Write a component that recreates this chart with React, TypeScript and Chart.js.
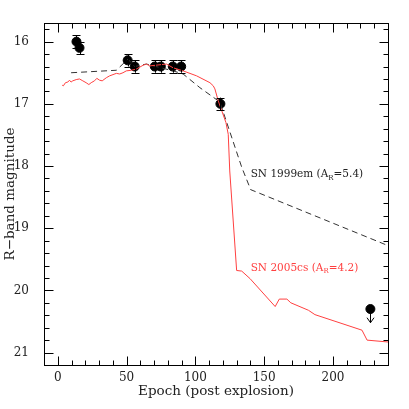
import React, { useEffect, useRef } from "react";
import { Chart, registerables } from "chart.js";

Chart.register(...registerables);

// Observed SN points (epoch, R mag, error)
const obsEpoch = [13.6, 15.8, 50.8, 55.9, 70.5, 74.9, 83.6, 89.7, 118.2];
const obsMag = [16.0, 16.1, 16.3, 16.4, 16.4, 16.4, 16.4, 16.4, 17.0];
const obsErr = [0.1, 0.1, 0.1, 0.1, 0.1, 0.1, 0.1, 0.1, 0.1];

// Upper limit
const limEpoch = [227.2];
const limMag = [20.3];
const limArrowTo = [20.52];

// SN 2005cs template (red)
const sn05Epoch = [3.2, 4.1, 5.6, 7.3, 8.5, 9.7, 10.9, 13.4, 15.8, 18.2, 20.6, 22.6, 24.3, 26.7, 28.4, 30.4, 32.3, 35.3, 37.7, 42.6, 45, 47.4, 49.8, 53.5, 57.1, 62, 64.4, 66.8, 79, 83.8, 91.1, 100.9, 110.6, 113, 114.2, 116.6, 119, 122.2, 123.9, 125, 130, 133.7, 139.7, 158, 161, 166.5, 169.4, 182.2, 186.9, 221.1, 224.8, 240];
const sn05Mag = [16.7, 16.71, 16.66, 16.65, 16.62, 16.65, 16.63, 16.61, 16.6, 16.63, 16.66, 16.69, 16.66, 16.63, 16.59, 16.62, 16.63, 16.58, 16.55, 16.51, 16.52, 16.5, 16.47, 16.46, 16.44, 16.38, 16.36, 16.39, 16.36, 16.42, 16.47, 16.55, 16.66, 16.71, 16.76, 16.95, 17.1, 17.3, 17.49, 18.08, 19.68, 19.69, 19.81, 20.26, 20.14, 20.14, 20.2, 20.32, 20.39, 20.64, 20.8, 20.83];

// SN 1999em template (dashed)
const sn99Epoch = [9.7, 42.6, 51, 55.9, 64.4, 83.8, 91.1, 103.3, 117.8, 133.7, 140.2, 240];
const sn99Mag = [16.5, 16.46, 16.28, 16.4, 16.36, 16.47, 16.52, 16.74, 16.97, 18.02, 18.38, 19.28];

const xTickValues = [0, 50, 100, 150, 200];
const yTickValues = [16, 17, 18, 19, 20, 21];
const X_MIN = -10, X_MAX = 240, Y_MIN = 15.7, Y_MAX = 21.2;

const FONT = "'DejaVu Serif', serif";
const RED = "#ff4040";
const TEXT = "#222";

const toXY = (xs: number[], ys: number[]) => xs.map((x, i) => ({ x, y: ys[i] }));

const decorPlugin = {
  id: "decor",
  afterDatasetsDraw(chart: any) {
    const ctx = chart.ctx;
    const xs = chart.scales.x;
    const ys = chart.scales.y;
    const a = chart.chartArea;
    ctx.save();
    // error bars
    ctx.strokeStyle = "#000";
    ctx.lineWidth = 1;
    obsEpoch.forEach((e, i) => {
      const px = Math.round(xs.getPixelForValue(e)) + 0.5;
      const y1 = ys.getPixelForValue(obsMag[i] - obsErr[i]);
      const y2 = ys.getPixelForValue(obsMag[i] + obsErr[i]);
      ctx.beginPath();
      ctx.moveTo(px, y1); ctx.lineTo(px, y2);
      ctx.moveTo(px - 4, Math.round(y1) + 0.5); ctx.lineTo(px + 4, Math.round(y1) + 0.5);
      ctx.moveTo(px - 4, Math.round(y2) + 0.5); ctx.lineTo(px + 4, Math.round(y2) + 0.5);
      ctx.stroke();
    });
    // upper limit arrow
    limEpoch.forEach((e, i) => {
      const px = Math.round(xs.getPixelForValue(e)) + 0.5;
      const y1 = ys.getPixelForValue(limMag[i]);
      const y2 = ys.getPixelForValue(limArrowTo[i]);
      ctx.beginPath();
      ctx.moveTo(px, y1); ctx.lineTo(px, y2);
      ctx.moveTo(px - 3.5, y2 - 5); ctx.lineTo(px, y2); ctx.lineTo(px + 3.5, y2 - 5);
      ctx.stroke();
    });
    // frame
    ctx.lineWidth = 1;
    ctx.strokeStyle = "#000";
    const L = Math.round(a.left) + 0.5, R = Math.round(a.right) + 0.5;
    const T = Math.round(a.top) + 0.5, B = Math.round(a.bottom) + 0.5;
    ctx.strokeRect(L, T, R - L, B - T);
    ctx.beginPath();
    for (let v = X_MIN; v <= X_MAX + 1e-6; v += 10) {
      const major = xTickValues.includes(Math.round(v));
      const len = major ? 9 : 5;
      const px = Math.round(xs.getPixelForValue(v)) + 0.5;
      ctx.moveTo(px, B); ctx.lineTo(px, B - len);
      ctx.moveTo(px, T); ctx.lineTo(px, T + len);
    }
    for (let k = 0; k <= 27; k++) {
      const v = 15.8 + k * 0.2;
      if (v > Y_MAX + 1e-6) break;
      const major = yTickValues.some((t) => Math.abs(t - v) < 1e-6);
      const len = major ? 9 : 5;
      const py = Math.round(ys.getPixelForValue(v)) + 0.5;
      ctx.moveTo(L, py); ctx.lineTo(L + len, py);
      ctx.moveTo(R, py); ctx.lineTo(R - len, py);
    }
    ctx.stroke();
    // annotations
    const drawLabel = (x: number, y: number, pre: string, sub: string, post: string, color: string) => {
      const px = xs.getPixelForValue(x);
      const py = ys.getPixelForValue(y);
      ctx.fillStyle = color;
      ctx.textBaseline = "middle";
      ctx.textAlign = "left";
      ctx.font = `10.5px ${FONT}`;
      ctx.fillText(pre, px, py);
      let w = ctx.measureText(pre).width;
      ctx.font = `7px ${FONT}`;
      ctx.fillText(sub, px + w, py + 3);
      w += ctx.measureText(sub).width;
      ctx.font = `10.5px ${FONT}`;
      ctx.fillText(post, px + w, py);
    };
    drawLabel(140.2, 18.14, "SN 1999em (A", "R", "=5.4)", TEXT);
    drawLabel(140.2, 19.65, "SN 2005cs (A", "R", "=4.2)", RED);
    ctx.restore();
  },
};

export default function App() {
  const ref = useRef<HTMLCanvasElement | null>(null);
  useEffect(() => {
    if (!ref.current) return;
    const chart = new Chart(ref.current, {
      type: "scatter",
      data: {
        datasets: [
          {
            type: "line",
            label: "SN 2005cs",
            data: toXY(sn05Epoch, sn05Mag),
            borderColor: RED,
            borderWidth: 1,
            pointRadius: 0,
            fill: false,
            tension: 0,
          } as any,
          {
            type: "line",
            label: "SN 1999em",
            data: toXY(sn99Epoch, sn99Mag),
            borderColor: "#333",
            borderWidth: 1,
            borderDash: [6, 4],
            pointRadius: 0,
            fill: false,
            tension: 0,
          } as any,
          {
            label: "Observed",
            data: toXY(obsEpoch, obsMag),
            backgroundColor: "#000",
            borderColor: "#000",
            pointRadius: 4.5,
          },
          {
            label: "Upper limit",
            data: toXY(limEpoch, limMag),
            backgroundColor: "#000",
            borderColor: "#000",
            pointRadius: 4.5,
          },
        ],
      },
      options: {
        animation: false,
        responsive: false,
        maintainAspectRatio: false,
        layout: { padding: { left: 0, right: 21, top: 23, bottom: 0 } },
        plugins: { legend: { display: false }, tooltip: { enabled: false } },
        scales: {
          x: {
            type: "linear",
            min: X_MIN,
            max: X_MAX,
            grid: { display: false, drawTicks: false },
            border: { display: false },
            afterBuildTicks: (s: any) => { s.ticks = xTickValues.map((v) => ({ value: v })); },
            afterFit: (s: any) => { s.height = 44; },
            ticks: { color: TEXT, padding: 6, maxRotation: 0, font: { family: FONT, size: 12 } },
            title: { display: true, text: "Epoch (post explosion)", color: TEXT, font: { family: FONT, size: 13.5 }, padding: { top: 0, bottom: 9 } },
          },
          y: {
            type: "linear",
            reverse: true,
            min: Y_MIN,
            max: Y_MAX,
            grid: { display: false, drawTicks: false },
            border: { display: false },
            afterBuildTicks: (s: any) => { s.ticks = yTickValues.map((v) => ({ value: v })); },
            afterFit: (s: any) => { s.width = 44; },
            ticks: { color: TEXT, padding: 15, font: { family: FONT, size: 12 } },
            title: { display: true, text: "R\u2212band magnitude", color: TEXT, font: { family: FONT, size: 13.5 }, padding: { top: 2, bottom: 0 } },
          },
        },
      },
      plugins: [decorPlugin],
    } as any);
    return () => chart.destroy();
  }, []);
  return (
    <div style={{ position: "absolute", left: 0, top: 0, width: 409, height: 409, background: "#fff" }}>
      <canvas ref={ref} width={409} height={409} style={{ width: 409, height: 409 }} />
    </div>
  );
}
